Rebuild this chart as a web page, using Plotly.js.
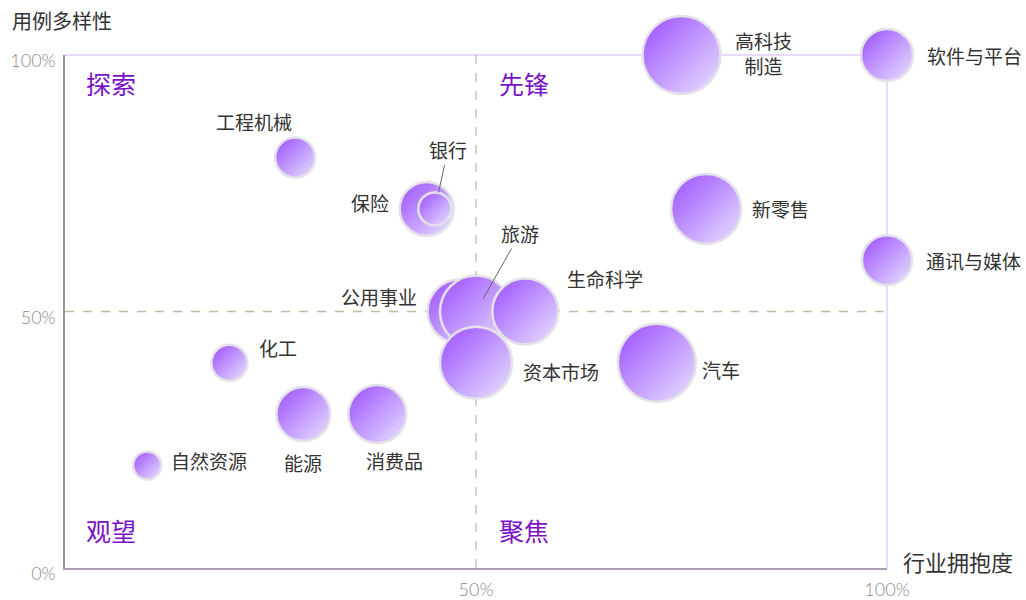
<!DOCTYPE html>
<html>
<head>
<meta charset="utf-8">
<script src="https://cdn.plot.ly/plotly-3.0.1.min.js"></script>
<style>
html,body{margin:0;padding:0;background:#fff;}
#chart{width:1026px;height:600px;}
</style>
</head>
<body>
<div id="chart"></div>
<script>
// ---- data ----
var industries = ['高科技<br>制造','软件与平台','工程机械','保险','银行','新零售','通讯与媒体','公用事业','旅游','生命科学','资本市场','汽车','化工','能源','消费品','自然资源'];
var adoption   = [75, 100, 28, 44, 45, 78, 100, 48, 50, 56, 50, 72, 20, 29, 38, 10];   // 行业拥抱度 (%)
var diversity  = [100, 100, 80, 70, 70, 70, 60, 50, 50, 50, 40, 40, 40, 30, 30, 20];   // 用例多样性 (%)
var scale      = [78, 52, 40, 54, 33, 70, 50, 64, 72, 66, 72, 78, 36, 54, 58, 28];     // 气泡大小
var quadrants  = ['探索','先锋','观望','聚焦'];
var xTickVals  = [50, 100];
var xTickText  = ['50%','100%'];
var yTickVals  = [0, 50, 100];
var yTickText  = ['0%','50%','100%'];

// ---- label placement (pixel offsets from bubble center) ----
var labelOffsets = [
  [82, 2], [87, 0], [-41, 36], [-57, 6], null, [74, 0], [86, 0], [-81, 15], null,
  [80, 33], [85, -9], [64, -7], [49, 15], [0, -48], [17, -46], [62, 5]
];
var arrowLabels = { 4: {ax: 13, ay: -59, standoff: 17}, 8: {ax: 44, ay: -78, standoff: 14} };

var CJK = '"Noto Sans CJK SC", "Noto Sans", sans-serif';
var annotations = [];
industries.forEach(function (name, i) {
  if (arrowLabels[i]) {
    var a = arrowLabels[i];
    annotations.push({
      x: adoption[i], y: diversity[i], xref: 'x', yref: 'y', text: name,
      showarrow: true, arrowhead: 0, arrowwidth: 1, arrowcolor: '#666',
      ax: a.ax, ay: a.ay, standoff: a.standoff,
      font: {family: CJK, size: 19, color: '#333'}
    });
  } else {
    var o = labelOffsets[i];
    annotations.push({
      x: adoption[i], y: diversity[i], xref: 'x', yref: 'y', text: name,
      showarrow: false, xshift: o[0], yshift: o[1],
      font: {family: CJK, size: 19, color: '#333'}
    });
  }
});
// quadrant labels
var qPos = [[0.056, 0.945], [0.558, 0.945], [0.056, 0.075], [0.558, 0.075]];
quadrants.forEach(function (q, i) {
  annotations.push({
    x: qPos[i][0], y: qPos[i][1], xref: 'paper', yref: 'paper', text: q,
    showarrow: false, xanchor: 'center', yanchor: 'middle',
    font: {family: CJK, size: 25, color: '#7a12c8'}
  });
});
// axis titles
annotations.push({
  x: -0.067, y: 1.068, xref: 'paper', yref: 'paper', text: '用例多样性', showarrow: false,
  xanchor: 'left', yanchor: 'middle',
  font: {family: CJK, size: 20, color: '#333'}
});
annotations.push({
  x: 1.0, y: 0.013, xref: 'paper', yref: 'paper', text: '行业拥抱度', showarrow: false,
  xanchor: 'left', yanchor: 'middle', xshift: 14,
  font: {family: CJK, size: 22, color: '#333'}
});

var trace = {
  type: 'scatter', mode: 'markers',
  x: adoption, y: diversity, text: industries, hoverinfo: 'text',
  cliponaxis: false,
  marker: {
    size: scale, sizemode: 'diameter', sizeref: 1,
    color: '#9a4cff',
    gradient: {type: 'horizontal', color: '#e9e4ff'},
    line: {color: '#e4e2e8', width: 2.5},
    opacity: 1
  }
};

var layout = {
  width: 1026, height: 600,
  margin: {l: 65, r: 139, t: 55, b: 32},
  paper_bgcolor: '#fff', plot_bgcolor: '#fff',
  showlegend: false,
  xaxis: {
    range: [0, 100], showgrid: false, zeroline: false,
    showline: true, linecolor: '#ab9db3', linewidth: 1.5,
    tickvals: xTickVals, ticktext: xTickText, ticks: '',
    ticklabelstandoff: 5,
    tickfont: {family: 'Lato, sans-serif', size: 18, color: '#8c8c8c', weight: 300}
  },
  yaxis: {
    range: [0, 100], showgrid: false, zeroline: false,
    showline: true, linecolor: '#9c949e', linewidth: 1.5,
    tickvals: yTickVals, ticktext: yTickText, ticks: '',
    ticklabelstandoff: 4, ticklabelshift: 6,
    tickfont: {family: 'Lato, sans-serif', size: 18, color: '#8c8c8c', weight: 300}
  },
  shapes: [
    {type: 'line', xref: 'paper', yref: 'paper', x0: 0, x1: 1, y0: 1, y1: 1, layer: 'below',
     line: {color: '#e2cdf8', width: 1.5}},
    {type: 'line', xref: 'paper', yref: 'paper', x0: 1, x1: 1, y0: 0, y1: 1, layer: 'below',
     line: {color: '#e2cdf8', width: 1.5}},
    {type: 'line', xref: 'x', yref: 'paper', x0: 50, x1: 50, y0: 0, y1: 1, layer: 'below',
     line: {color: '#bdbda6', width: 1.3, dash: 'dash'}},
    {type: 'line', xref: 'paper', yref: 'y', x0: 0, x1: 1, y0: 50, y1: 50, layer: 'below',
     line: {color: '#bdbda6', width: 1.3, dash: 'dash'}}
  ],
  annotations: annotations
};

var gd = document.getElementById('chart');
function diagonalGradients() {
  var grads = gd.querySelectorAll('linearGradient');
  grads.forEach(function (g) {
    g.setAttribute('x1', '1'); g.setAttribute('y1', '1');
    g.setAttribute('x2', '0'); g.setAttribute('y2', '0');
  });
}
Plotly.newPlot(gd, [trace], layout, {displayModeBar: false, responsive: false}).then(function () {
  diagonalGradients();
  gd.on('plotly_afterplot', diagonalGradients);
});
</script>
</body>
</html>
